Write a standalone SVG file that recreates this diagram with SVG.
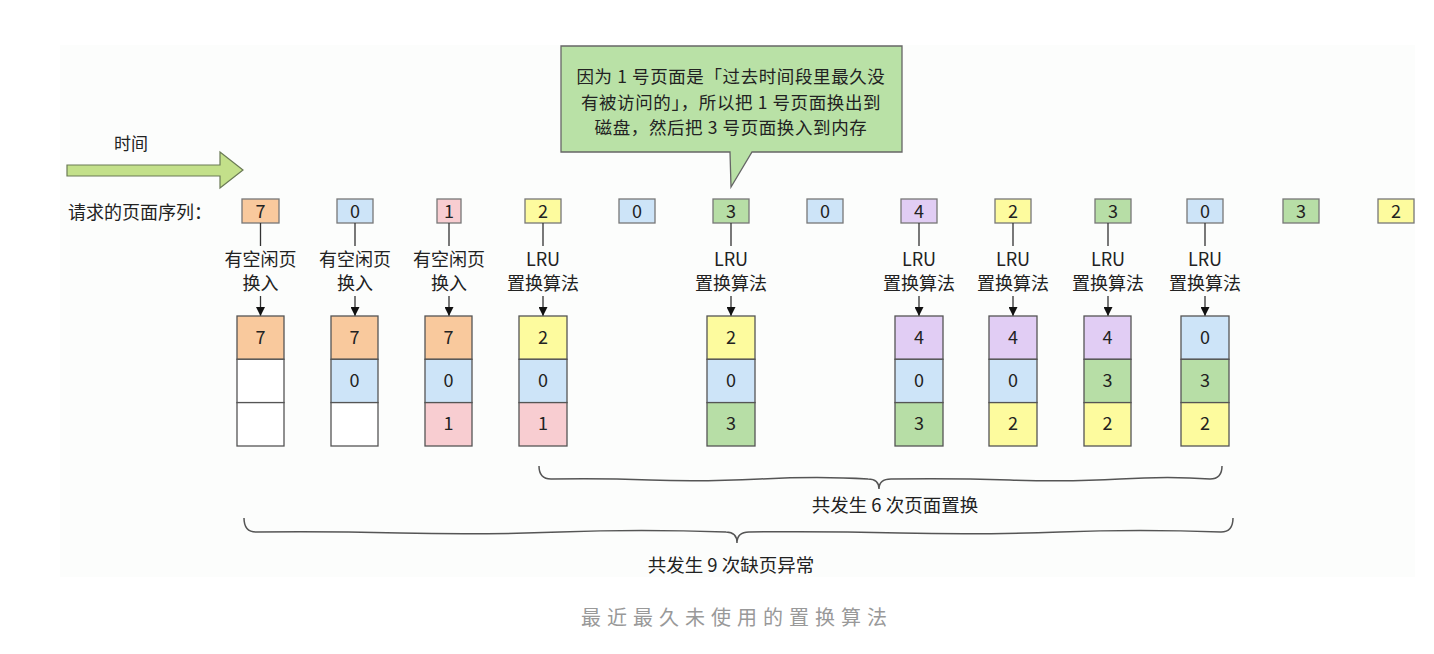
<svg xmlns="http://www.w3.org/2000/svg" width="1434" height="654" viewBox="0 0 1434 654">
<style>
text{font-family:"Noto Sans CJK SC","Noto Sans",sans-serif;fill:#222}
.lbl{font-size:18px;text-anchor:middle}
.num{font-size:18px;text-anchor:middle}
.co{font-size:17.5px;text-anchor:middle;letter-spacing:0.6px}
.sq{stroke:#777;stroke-width:1.3}
.cell{stroke:#555;stroke-width:1.3}
.o{fill:#f9c99d}.b{fill:#cde4f8}.p{fill:#f8cdd1}.y{fill:#fdfb9e}.g{fill:#b7dea6}.v{fill:#e1cdf4}.w{fill:#ffffff}
.stem{stroke:#333;stroke-width:1.3;fill:none}
.brace{stroke:#555;stroke-width:1.5;fill:none}
</style>
<defs>
<marker id="ah" viewBox="0 0 10 10" refX="10" refY="5" markerWidth="9" markerHeight="9" markerUnits="userSpaceOnUse" orient="auto">
<path d="M0,0 L10,5 L0,10 Z" fill="#111"/>
</marker>
</defs>
<rect x="60" y="45" width="1355" height="532" fill="#fcfdfc"/>

<g id="time">
<text x="131" y="150" font-size="17" text-anchor="middle">时间</text>
<path d="M67,165 L220,165 L220,152 L243,170 L220,188 L220,176 L67,176 Z" fill="#c3e08a" stroke="#6a7a55" stroke-width="1.2"/>
</g>

<g id="seq-label"><text x="68" y="219" font-size="18">请求的页面序列：</text></g>

<g id="callout">
<path d="M561,46 L902,46 L902,152 L752,152 L731,187 L730,152 L561,152 Z" fill="#b9e1a6" stroke="#666" stroke-width="1.3"/>
<text class="co" x="731" y="83">因为 1 号页面是「过去时间段里最久没</text>
<text class="co" x="731" y="108.5">有被访问的」，所以把 1 号页面换出到</text>
<text class="co" x="731" y="134">磁盘，然后把 3 号页面换入到内存</text>
</g>

<g id="sequence">
<g id="s1"><rect class="sq o" x="242" y="199" width="37" height="24"/><text class="num" x="260.5" y="218">7</text></g>
<g id="s2"><rect class="sq b" x="337" y="199" width="36" height="24"/><text class="num" x="355" y="218">0</text></g>
<g id="s3"><rect class="sq p" x="437" y="199" width="24" height="24"/><text class="num" x="449" y="218">1</text></g>
<g id="s4"><rect class="sq y" x="525" y="199" width="36" height="24"/><text class="num" x="543" y="218">2</text></g>
<g id="s5"><rect class="sq b" x="619" y="199" width="36" height="24"/><text class="num" x="637" y="218">0</text></g>
<g id="s6"><rect class="sq g" x="713" y="199" width="36" height="24"/><text class="num" x="731" y="218">3</text></g>
<g id="s7"><rect class="sq b" x="807" y="199" width="36" height="24"/><text class="num" x="825" y="218">0</text></g>
<g id="s8"><rect class="sq v" x="901" y="199" width="36" height="24"/><text class="num" x="919" y="218">4</text></g>
<g id="s9"><rect class="sq y" x="995" y="199" width="36" height="24"/><text class="num" x="1013" y="218">2</text></g>
<g id="s10"><rect class="sq g" x="1095" y="199" width="36" height="24"/><text class="num" x="1113" y="218">3</text></g>
<g id="s11"><rect class="sq b" x="1187" y="199" width="36" height="24"/><text class="num" x="1205" y="218">0</text></g>
<g id="s12"><rect class="sq g" x="1283" y="199" width="36" height="24"/><text class="num" x="1301" y="218">3</text></g>
<g id="s13"><rect class="sq y" x="1378" y="199" width="36" height="24"/><text class="num" x="1396" y="218">2</text></g>
</g>

<g id="labels">
<g id="l1"><text class="lbl" x="260.5" y="266">有空闲页</text><text class="lbl" x="260.5" y="290">换入</text></g>
<g id="l2"><text class="lbl" x="355" y="266">有空闲页</text><text class="lbl" x="355" y="290">换入</text></g>
<g id="l3"><text class="lbl" x="449" y="266">有空闲页</text><text class="lbl" x="449" y="290">换入</text></g>
<g id="l4"><text class="lbl" x="543" y="266">LRU</text><text class="lbl" x="543" y="290">置换算法</text></g>
<g id="l5"><text class="lbl" x="731" y="266">LRU</text><text class="lbl" x="731" y="290">置换算法</text></g>
<g id="l6"><text class="lbl" x="919" y="266">LRU</text><text class="lbl" x="919" y="290">置换算法</text></g>
<g id="l7"><text class="lbl" x="1013" y="266">LRU</text><text class="lbl" x="1013" y="290">置换算法</text></g>
<g id="l8"><text class="lbl" x="1108" y="266">LRU</text><text class="lbl" x="1108" y="290">置换算法</text></g>
<g id="l9"><text class="lbl" x="1205" y="266">LRU</text><text class="lbl" x="1205" y="290">置换算法</text></g>
</g>

<g id="connectors">
<path class="stem" d="M260.5,223 V246 M355,223 V246 M449,223 V246 M543,223 V246 M731,223 V246 M919,223 V246 M1013,223 V246 M1108,223 V246 M1205,223 V246"/>
<line class="stem" x1="260.5" y1="296" x2="260.5" y2="316" marker-end="url(#ah)"/>
<line class="stem" x1="355" y1="296" x2="355" y2="316" marker-end="url(#ah)"/>
<line class="stem" x1="449" y1="296" x2="449" y2="316" marker-end="url(#ah)"/>
<line class="stem" x1="543" y1="296" x2="543" y2="316" marker-end="url(#ah)"/>
<line class="stem" x1="731" y1="296" x2="731" y2="316" marker-end="url(#ah)"/>
<line class="stem" x1="919" y1="296" x2="919" y2="316" marker-end="url(#ah)"/>
<line class="stem" x1="1013" y1="296" x2="1013" y2="316" marker-end="url(#ah)"/>
<line class="stem" x1="1108" y1="296" x2="1108" y2="316" marker-end="url(#ah)"/>
<line class="stem" x1="1205" y1="296" x2="1205" y2="316" marker-end="url(#ah)"/>
</g>

<g id="frames">
<g id="f1"><rect class="cell o" x="237" y="316" width="47" height="43.3"/><rect class="cell w" x="237" y="359.3" width="47" height="43.3"/><rect class="cell w" x="237" y="402.6" width="47" height="43.4"/><text class="num" x="260.5" y="344">7</text></g>
<g id="f2"><rect class="cell o" x="331" y="316" width="47" height="43.3"/><rect class="cell b" x="331" y="359.3" width="47" height="43.3"/><rect class="cell w" x="331" y="402.6" width="47" height="43.4"/><text class="num" x="354.5" y="344">7</text><text class="num" x="354.5" y="387">0</text></g>
<g id="f3"><rect class="cell o" x="425" y="316" width="47" height="43.3"/><rect class="cell b" x="425" y="359.3" width="47" height="43.3"/><rect class="cell p" x="425" y="402.6" width="47" height="43.4"/><text class="num" x="448.5" y="344">7</text><text class="num" x="448.5" y="387">0</text><text class="num" x="448.5" y="430">1</text></g>
<g id="f4"><rect class="cell y" x="519" y="316" width="48" height="43.3"/><rect class="cell b" x="519" y="359.3" width="48" height="43.3"/><rect class="cell p" x="519" y="402.6" width="48" height="43.4"/><text class="num" x="543" y="344">2</text><text class="num" x="543" y="387">0</text><text class="num" x="543" y="430">1</text></g>
<g id="f5"><rect class="cell y" x="707" y="316" width="48" height="43.3"/><rect class="cell b" x="707" y="359.3" width="48" height="43.3"/><rect class="cell g" x="707" y="402.6" width="48" height="43.4"/><text class="num" x="731" y="344">2</text><text class="num" x="731" y="387">0</text><text class="num" x="731" y="430">3</text></g>
<g id="f6"><rect class="cell v" x="895" y="316" width="48" height="43.3"/><rect class="cell b" x="895" y="359.3" width="48" height="43.3"/><rect class="cell g" x="895" y="402.6" width="48" height="43.4"/><text class="num" x="919" y="344">4</text><text class="num" x="919" y="387">0</text><text class="num" x="919" y="430">3</text></g>
<g id="f7"><rect class="cell v" x="989" y="316" width="48" height="43.3"/><rect class="cell b" x="989" y="359.3" width="48" height="43.3"/><rect class="cell y" x="989" y="402.6" width="48" height="43.4"/><text class="num" x="1013" y="344">4</text><text class="num" x="1013" y="387">0</text><text class="num" x="1013" y="430">2</text></g>
<g id="f8"><rect class="cell v" x="1084" y="316" width="47" height="43.3"/><rect class="cell g" x="1084" y="359.3" width="47" height="43.3"/><rect class="cell y" x="1084" y="402.6" width="47" height="43.4"/><text class="num" x="1107.5" y="344">4</text><text class="num" x="1107.5" y="387">3</text><text class="num" x="1107.5" y="430">2</text></g>
<g id="f9"><rect class="cell b" x="1181" y="316" width="48" height="43.3"/><rect class="cell g" x="1181" y="359.3" width="48" height="43.3"/><rect class="cell y" x="1181" y="402.6" width="48" height="43.4"/><text class="num" x="1205" y="344">0</text><text class="num" x="1205" y="387">3</text><text class="num" x="1205" y="430">2</text></g>
</g>

<g id="brace6">
<path class="brace" d="M539,466 Q539,479 551,479 Q600,478 650,480 T760,479 T868,479 Q879,479 879,489 Q879,479 891,479 Q950,478 1010,480 T1120,479 T1210,479 Q1222,479 1222,466"/>
<text x="895" y="512" font-size="18.5" text-anchor="middle">共发生 6 次页面置换</text>
</g>
<g id="brace9">
<path class="brace" d="M244,518 Q244,532 256,532 Q320,531 400,533 T560,532 T726,532 Q737,532 737,543 Q737,532 749,532 Q820,531 900,533 T1060,532 T1221,532 Q1233,532 1233,518"/>
<text x="731" y="572" font-size="18.5" text-anchor="middle">共发生 9 次缺页异常</text>
</g>

<g id="caption"><text x="737" y="625" font-size="20" letter-spacing="6" text-anchor="middle" style="fill:#999">最近最久未使用的置换算法</text></g>
</svg>
